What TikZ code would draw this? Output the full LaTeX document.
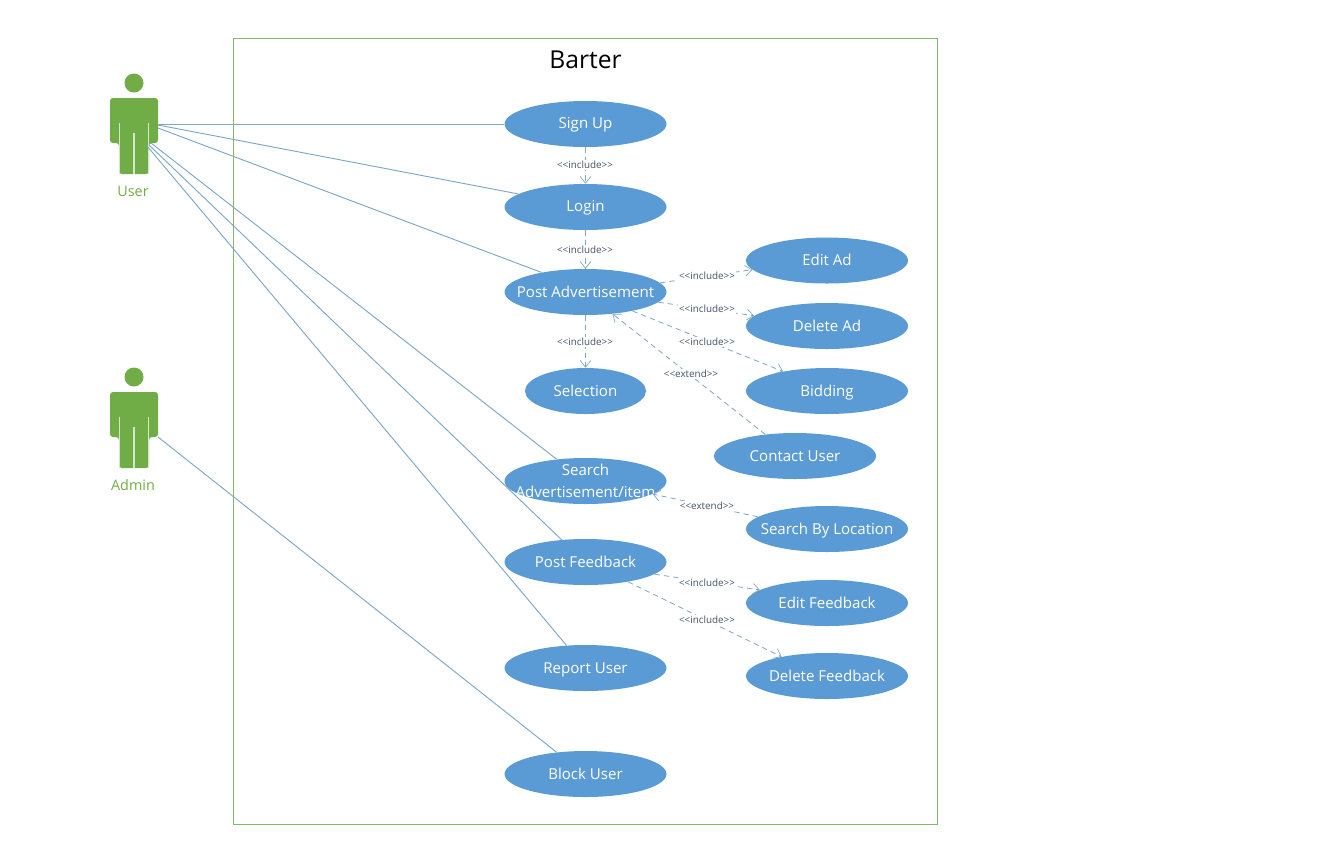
\documentclass[tikz,border=0pt]{standalone}
\usepackage{fontspec}
\setmainfont{Open Sans}
\usetikzlibrary{arrows.meta,shapes.geometric}
\definecolor{ucblue}{HTML}{5B9BD5}
\definecolor{ucline}{HTML}{7FA6C6}
\definecolor{ucgreen}{HTML}{70AD47}
\definecolor{ucframe}{HTML}{86B865}
\definecolor{uclabel}{HTML}{44546A}
\newcommand\pxu{*0.75pt}
\newcommand\uctext[1]{\makebox[0pt][c]{\rule[-2.6pt]{0pt}{12.8pt}#1}}
\tikzset{
  usecase/.style={ellipse,fill=ucblue,inner xsep=0pt,inner ysep=-8pt,minimum width=162\pxu,minimum height=46\pxu,text=white,font=\fontsize{11.3pt}{16.5pt}\selectfont,align=center},
  usecasesmall/.style={usecase,minimum width=121\pxu},
  assoc/.style={draw=ucline,line width=0.7pt},
  dep/.style={draw=ucline,line width=0.6pt,dash pattern=on 4pt off 3pt,-{Straight Barb[length=5pt,width=8pt,line width=0.5pt]}},
  deplabel/.style={fill=white,inner sep=1pt,text=uclabel,font=\fontsize{7.4pt}{9pt}\selectfont},
  actorlabel/.style={text=ucgreen,font=\fontsize{10.8pt}{13pt}\selectfont},
  actorfig/.pic={
    \fill[ucgreen] (0,-41) circle[radius=9.5];
    \fill[ucgreen,rounded corners=2.2pt] (-24,19) -- (-24,-26) -- (24,-26) -- (24,19) -- (15,19) -- (15,50) -- (-15,50) -- (-15,19) -- cycle;
    \draw[white!70!ucgreen,line width=0.8pt] (-14.5,-1) -- (-14.5,50) (14.5,-1) -- (14.5,50) (0,9) -- (0,50);
  },
}
\begin{document}
\begin{tikzpicture}[x=0.75pt,y=-0.75pt]
\useasboundingbox (0,0) rectangle (1341,847);
\draw[draw=ucframe,line width=0.75pt] (233.6,38.1) rectangle (937.6,824.1);
\node[font=\fontsize{18.5pt}{20pt}\selectfont,text=black] (title) at (585.5,59.5) {Barter};

\pic at (134,124) {actorfig};
\pic at (134,418) {actorfig};
\node[actorlabel] (userlabel) at (133,191) {User};
\node[actorlabel] (adminlabel) at (133,485) {Admin};
\coordinate (u1) at (158,124);
\coordinate (u2) at (158,125);
\coordinate (u3) at (158,128);
\coordinate (u4) at (151,143);
\coordinate (u5) at (149,145);
\coordinate (u6) at (147,146);
\coordinate (a1) at (158,437);

\node[usecase] (signup) at (585.5,124) {\uctext{Sign Up}};
\node[usecase] (login) at (585.5,207) {\uctext{Login}};
\node[usecase] (post) at (585.5,292) {\uctext{Post Advertisement}};
\node[usecasesmall] (selection) at (585.5,391) {\uctext{Selection}};
\node[usecase] (editad) at (827,260.5) {\uctext{Edit Ad}};
\node[usecase] (deletead) at (827,326) {\uctext{Delete Ad}};
\node[usecase] (bidding) at (827,391) {\uctext{Bidding}};
\node[usecase] (contact) at (795,456) {\uctext{Contact User}};
\node[usecase] (search) at (585.5,481) {\uctext{Search}\\\uctext{Advertisement/item}};
\node[usecase] (location) at (827,529) {\uctext{Search By Location}};
\node[usecase] (feedback) at (585.5,562) {\uctext{Post Feedback}};
\node[usecase] (editfb) at (827,603) {\uctext{Edit Feedback}};
\node[usecase] (deletefb) at (827,676) {\uctext{Delete Feedback}};
\node[usecase] (report) at (585.5,668) {\uctext{Report User}};
\node[usecase] (block) at (585.5,774) {\uctext{Block User}};

\draw[assoc] (u1) -- (signup.west);
\draw[assoc] (u2) -- (login.169);
\draw[assoc] (u3) -- (post.156);
\draw[assoc] (u4) -- (search.143);
\draw[assoc] (u5) -- (feedback.137);
\draw[assoc] (u6) -- (report.130);
\draw[assoc] (a1) -- (block.143);

\draw[dep] (signup) -- (login);
\draw[dep] (login) -- (post);
\draw[dep] (post) -- (selection);
\draw[dep] (post.7) -- (editad.187);
\draw[dep] (post.-8) -- (deletead.172);
\draw[dep] (post.-22) -- (bidding.156);
\draw[dep] (contact.144) -- (post.-39);
\draw[dep] (location.170) -- (search.-11);
\draw[dep] (feedback.-10) -- (editfb.169);
\draw[dep] (feedback.-25) -- (deletefb.157);

\node[deplabel] (l1) at (585,165) {<{}<include>{}>};
\node[deplabel] (l2) at (585,250) {<{}<include>{}>};
\node[deplabel] (l3) at (585,342) {<{}<include>{}>};
\node[deplabel] (l4) at (707,276) {<{}<include>{}>};
\node[deplabel] (l5) at (707,309) {<{}<include>{}>};
\node[deplabel] (l6) at (707,342) {<{}<include>{}>};
\node[deplabel] (l7) at (691,374) {<{}<extend>{}>};
\node[deplabel] (l8) at (707,506) {<{}<extend>{}>};
\node[deplabel] (l9) at (707,583) {<{}<include>{}>};
\node[deplabel] (l10) at (707,620) {<{}<include>{}>};
\end{tikzpicture}
\end{document}
